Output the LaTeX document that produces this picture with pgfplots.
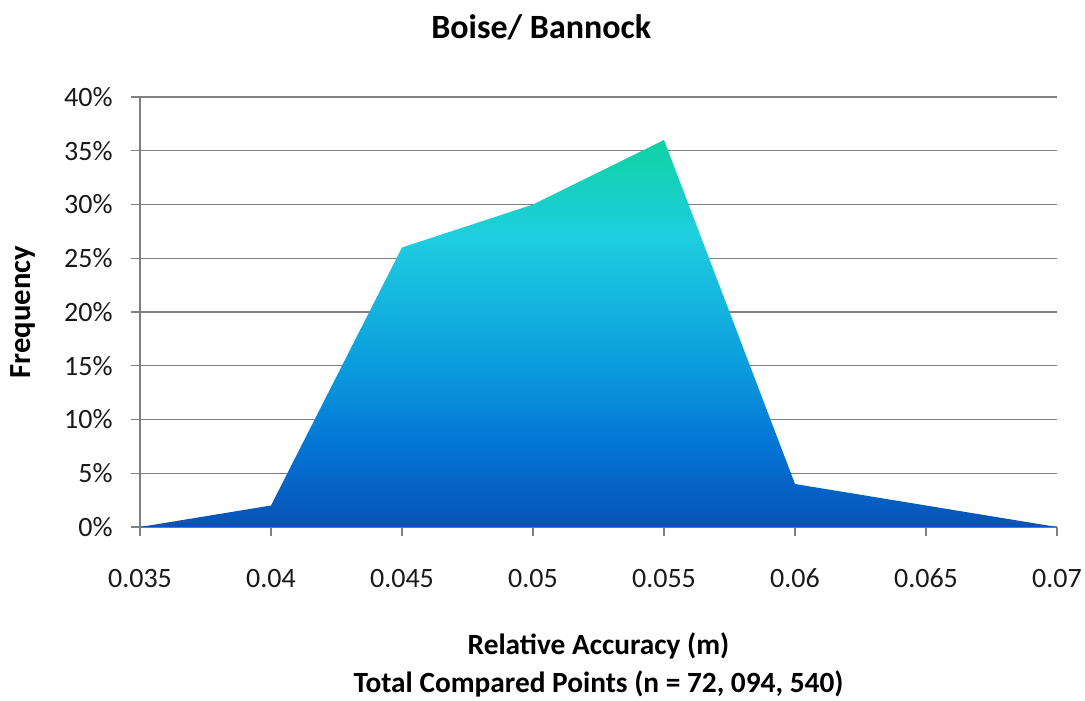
\documentclass[border=0pt]{standalone}
\usepackage{pgfplots}
\pgfplotsset{compat=1.18}
\usepackage{fontspec}
\setmainfont{Carlito}

\definecolor{gbot}{RGB}{8,82,182}
\definecolor{glow}{RGB}{4,118,214}
\definecolor{gmid}{RGB}{12,160,222}
\definecolor{gcyan}{RGB}{30,206,224}
\definecolor{gtop}{RGB}{16,210,162}
\definecolor{gridgray}{RGB}{128,128,128}

% path box maps onto 25bp..75bp; 0% -> 25bp, 36% -> 75bp
\pgfdeclareverticalshading{areafill}{100bp}{
  color(0bp)=(gbot); color(25bp)=(gbot); color(36bp)=(glow);
  color(47bp)=(gmid); color(62.5bp)=(gcyan); color(75bp)=(gtop);
  color(100bp)=(gtop)}

\begin{document}
\begin{tikzpicture}
\begin{axis}[
    scale only axis,
    width=687.75pt,
    height=322.5pt,
    xmin=0.035, xmax=0.07,
    ymin=0, ymax=40,
    axis x line*=bottom,
    axis y line*=left,
    axis line style={gridgray, line width=0.9pt},
    scaled x ticks=false,
    xtick={0.035,0.04,0.045,0.05,0.055,0.06,0.065,0.07},
    xticklabels={0.035,0.04,0.045,0.05,0.055,0.06,0.065,0.07},
    ytick={0,5,...,40},
    yticklabel={\pgfmathprintnumber{\tick}\%},
    /pgf/number format/assume math mode=true,
    tick align=outside,
    major tick length=7pt,
    tick style={gridgray, line width=0.9pt},
    ymajorgrids,
    grid style={gridgray, line width=0.9pt},
    ticklabel style={font=\fontsize{21}{24}\selectfont, text=black!90},
    xticklabel style={yshift=-21pt},
    yticklabel style={xshift=-10pt},
    title={\textbf{Boise/ Bannock}},
    title style={font=\fontsize{25.5}{30}\selectfont,
        at={(axis description cs:0.4375,1.117)}, anchor=base},
    xlabel={\textbf{Relative Accuracy (m)}\\\textbf{Total Compared Points (n = 72, 094, 540)}},
    xlabel style={font=\fontsize{22}{28.5}\selectfont, align=center,
        at={(axis description cs:0.5,-0.236)}, anchor=north},
    ylabel={\textbf{Frequency}},
    ylabel style={font=\fontsize{23}{26}\selectfont,
        at={(axis description cs:-0.128,0.5)}, anchor=center},
    clip=false,
]
\addplot[draw=none, shading=areafill] coordinates {
    (0.035,0) (0.04,2) (0.045,26) (0.05,30) (0.055,36)
    (0.06,4) (0.065,2) (0.07,0)
} \closedcycle;
\coordinate (bl) at (rel axis cs:0,0);
\end{axis}
\pgfresetboundingbox
\path[use as bounding box] ([shift={(-105pt,-129.75pt)}]bl) rectangle ([shift={(708.75pt,395.25pt)}]bl);
\end{tikzpicture}
\end{document}
